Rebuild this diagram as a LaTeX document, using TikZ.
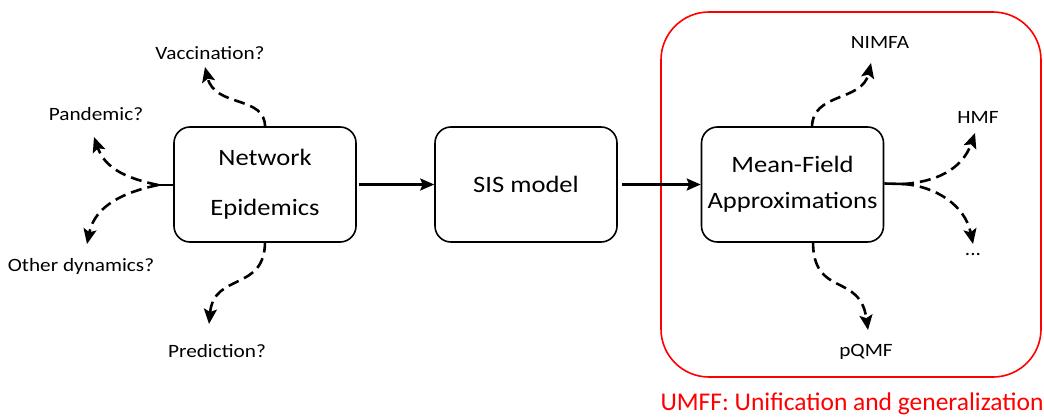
\documentclass[tikz,border=0pt]{standalone}
\usepackage{fontspec}
\setmainfont{Carlito}
\newfontfamily\widefont[FakeStretch=1.13]{Carlito}
\usetikzlibrary{arrows.meta}
\definecolor{umffred}{RGB}{255,0,0}
\tikzset{
  stage/.style={draw, line width=1.6pt, rounded corners=16pt, minimum width=182pt, minimum height=115pt, align=center, font=\widefont\fontsize{23.5}{50}\selectfont},
  lbl/.style={font=\widefont\fontsize{18.8}{22}\selectfont, inner sep=0pt},
  flow/.style={line width=2.4pt, -{Stealth[length=14pt,width=12pt,inset=2.5pt]}},
  branch/.style={line width=2.6pt, dash pattern=on 11pt off 6pt, -{Stealth[length=15pt,width=13pt,inset=3pt]}},
}
\begin{document}
\begin{tikzpicture}[x=1pt,y=-1pt]
\useasboundingbox (0,0) rectangle (1044,417);

% UMFF frame
\draw[umffred, line width=1.6pt, rounded corners=48pt] (661,12) rectangle (1041,377);
\node[text=umffred, font=\fontsize{25.5}{30}\selectfont, inner sep=0pt] (umff) at (852,404) {UMFF: Unification and generalization};

% stages
\node[stage] (ne) at (265,184.5) {Network\\[0pt]Epidemics};
\node[stage] (sis) at (526,184.5) {SIS model};
\node[stage] (mf) at (792.5,184.5) {Mean-Field\\[-14pt]Approximations};

\draw[flow] (ne.east) ++(2,0) coordinate (ne-out) -- (sis.west);
\draw[flow] (sis.east) ++(4,0) coordinate (sis-out) -- (mf.west);

% open questions around network epidemics
\node[lbl] (vac) at (210,53) {Vaccination?};
\node[lbl] (pan) at (96,114) {Pandemic?};
\node[lbl] (oth) at (81,266) {Other dynamics?};
\node[lbl] (pre) at (217,351) {Prediction?};

\coordinate (ne-top) at (265,127.5);
\coordinate (ne-bot) at (265,241.5);
\coordinate (ne-left) at (158,185);
\coordinate (vac-tip) at (205,67);
\coordinate (pan-tip) at (94,137);
\coordinate (oth-tip) at (87,244);
\coordinate (pre-tip) at (209,324);

\draw[line width=2.6pt] (ne.west) ++(0,0.5) -- (ne-left);
\draw[branch] (ne-top) .. controls (266,95) and (215,108) .. (vac-tip);
\draw[branch] (ne-left) .. controls (125,178) and (105,168) .. (pan-tip);
\draw[branch] (ne-left) .. controls (125,192) and (95,205) .. (oth-tip);
\draw[branch] (ne-bot) .. controls (265,292) and (214,272) .. (pre-tip);

% mean-field variants
\node[lbl] (nimfa) at (880,42) {NIMFA};
\node[lbl] (hmf) at (978,117) {HMF};
\node[lbl] (more) at (973,255) {...};
\node[lbl] (pqmf) at (866,352) {pQMF};

\coordinate (mf-top) at (812,127.5);
\coordinate (mf-bot) at (813,241.5);
\coordinate (mf-right) at (903,184);
\coordinate (nimfa-tip) at (871,63);
\coordinate (hmf-tip) at (975,133);
\coordinate (more-tip) at (973,244);
\coordinate (pqmf-tip) at (868,330);

\draw[line width=2.6pt] (mf.east) ++(0,-1) -- (mf-right);
\draw[branch] (mf-top) .. controls (812,92) and (862,102) .. (nimfa-tip);
\draw[branch] (mf-right) .. controls (935,182) and (962,170) .. (hmf-tip);
\draw[branch] (mf-right) .. controls (935,186) and (965,205) .. (more-tip);
\draw[branch] (mf-bot) .. controls (813,298) and (860,272) .. (pqmf-tip);
\end{tikzpicture}
\end{document}
